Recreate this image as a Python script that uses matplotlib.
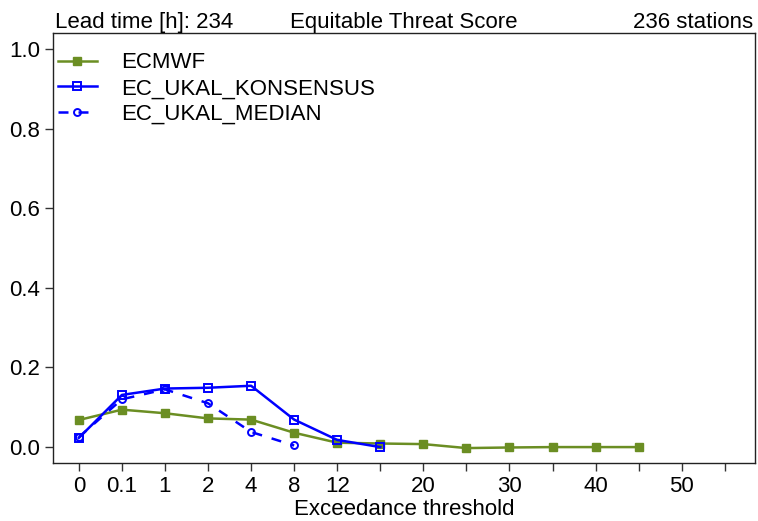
import matplotlib
matplotlib.use("Agg")
import matplotlib.pyplot as plt

plt.rcParams['font.family'] = ['Liberation Sans', 'DejaVu Sans']

tick_positions = list(range(16))
tick_labels = ["0", "0.1", "1", "2", "4", "8", "12", "", "20", "", "30", "", "40", "", "50", ""]

ecmwf = [0.068, 0.094, 0.085, 0.072, 0.069, 0.036, 0.011, 0.009, 0.0075, -0.0025, -0.001, 0.0, 0.0, 0.0]
konsensus = [0.023, 0.131, 0.147, 0.149, 0.154, 0.069, 0.018, 0.0]
median = [0.025, 0.120, 0.145, 0.110, 0.038, 0.004]

fig = plt.figure(figsize=(7.58, 5.21), dpi=100)
ax = fig.add_axes([0.0699, 0.1113, 0.9261, 0.8254])

green = '#6b8e23'
blue = '#0000ff'
ax.plot(range(len(ecmwf)), ecmwf, color=green, lw=1.8, marker='s', ms=5.5,
        mfc=green, mec=green, label='ECMWF')
ax.plot(range(len(konsensus)), konsensus, color=blue, lw=1.8, marker='s', ms=5.5,
        mfc='none', mec=blue, mew=1.4, label='EC_UKAL_KONSENSUS')
ax.plot(range(len(median)), median, color=blue, lw=1.8, ls=(0, (4, 4)), marker='o', ms=5,
        mfc='none', mec=blue, mew=1.4, label='EC_UKAL_MEDIAN')

ax.set_xlim(-0.6, 15.7)
ax.set_ylim(-0.04, 1.04)
ax.set_xticks(tick_positions)
ax.set_xticklabels(tick_labels)
ax.set_yticks([0.0, 0.2, 0.4, 0.6, 0.8, 1.0])
ax.set_yticklabels(["0.0", "0.2", "0.4", "0.6", "0.8", "1.0"])
ax.tick_params(axis='both', labelsize=16, length=6, width=1, color='#333333', pad=3)
for s in ax.spines.values():
    s.set_linewidth(1)
    s.set_color('#222222')

ax.set_xlabel('Exceedance threshold', fontsize=16, labelpad=2)

ax.text(0.003, 1.0, 'Lead time [h]: 234', transform=ax.transAxes, ha='left', va='bottom', fontsize=16)
ax.text(0.5, 1.0, 'Equitable Threat Score', transform=ax.transAxes, ha='center', va='bottom', fontsize=16)
ax.text(0.997, 1.0, '236 stations', transform=ax.transAxes, ha='right', va='bottom', fontsize=16)

ax.legend(loc='upper left', bbox_to_anchor=(0.0071, 0.955), frameon=False, fontsize=16,
          handlelength=1.75, borderaxespad=0, labelspacing=0.22, handletextpad=1.1, borderpad=0)

fig.savefig('out.png', dpi=100)
